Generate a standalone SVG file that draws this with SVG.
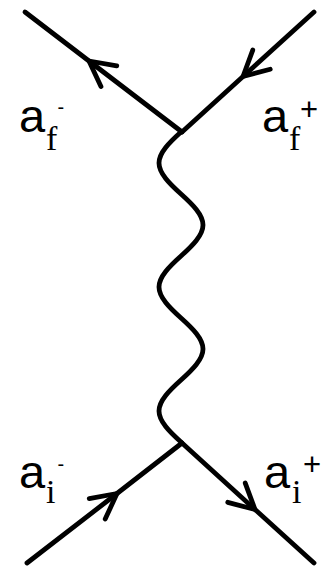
<svg xmlns="http://www.w3.org/2000/svg" width="336" height="583" viewBox="0 0 336 583">
<style>
.ln{fill:none;stroke:#000;stroke-width:4.8;stroke-linecap:round;stroke-linejoin:round}
.ah{fill:none;stroke:#000;stroke-width:4.8;stroke-linecap:round;stroke-linejoin:round}
.a{font-family:"Liberation Sans",Arial,sans-serif;font-size:47px;fill:#000}
.sub{font-family:"Liberation Serif","Times New Roman",serif;font-size:34px;fill:#000}
.plus{font-family:"Liberation Sans",Arial,sans-serif;font-size:31px;fill:#000}
.minus{font-family:"Liberation Sans",Arial,sans-serif;font-size:20px;fill:#000}
</style>
<defs>
<marker id="arr" markerUnits="userSpaceOnUse" orient="auto" markerWidth="40" markerHeight="40" viewBox="-30 -20 40 40" refX="0" refY="0" overflow="visible">
<path class="ah" d="M-25,-13 L0,0 L-25,13"/>
</marker>
</defs>
<g id="connectors">
<path id="af-minus-line" class="ln" d="M182,132 L89,61 L25,12" marker-mid="url(#arr)"/>
<path id="af-plus-line" class="ln" d="M314,12 L243,76.5 L182,132" marker-mid="url(#arr)"/>
<path id="ai-minus-line" class="ln" d="M27,563 L117,493.5 L182,443" marker-mid="url(#arr)"/>
<path id="ai-plus-line" class="ln" d="M182,443 L255,509.5 L314,563" marker-mid="url(#arr)"/>
<path id="photon" class="ln" d="M181,132 C169.5,142.3 159,152.7 159,163 C159,173.3 169.5,183.7 181,194 C192.5,204.3 203,214.7 203,225 C203,235.3 192.5,245.7 181,256 C169.5,266.3 159,276.7 159,287 C159,297.3 169.5,307.7 181,318 C192.5,328.3 203,338.7 203,349 C203,359.3 192.5,369.7 181,380 C169.5,390.3 159,400.7 159,411 C159,421.3 169.5,431.7 181,442"/>
</g>
<g id="label-af-minus">
<text class="a" x="19" y="132">a</text><text class="sub" x="46" y="150">f</text><text class="minus" x="57.5" y="114">-</text>
</g>
<g id="label-af-plus">
<text class="a" x="262" y="132">a</text><text class="sub" x="289" y="150">f</text><text class="plus" x="300" y="119.5">+</text>
</g>
<g id="label-ai-minus">
<text class="a" x="19" y="488">a</text><text class="sub" x="46" y="503">i</text><text class="minus" x="57.5" y="471">-</text>
</g>
<g id="label-ai-plus">
<text class="a" x="264" y="488">a</text><text class="sub" x="292" y="503">i</text><text class="plus" x="303" y="474.5">+</text>
</g>
</svg>
